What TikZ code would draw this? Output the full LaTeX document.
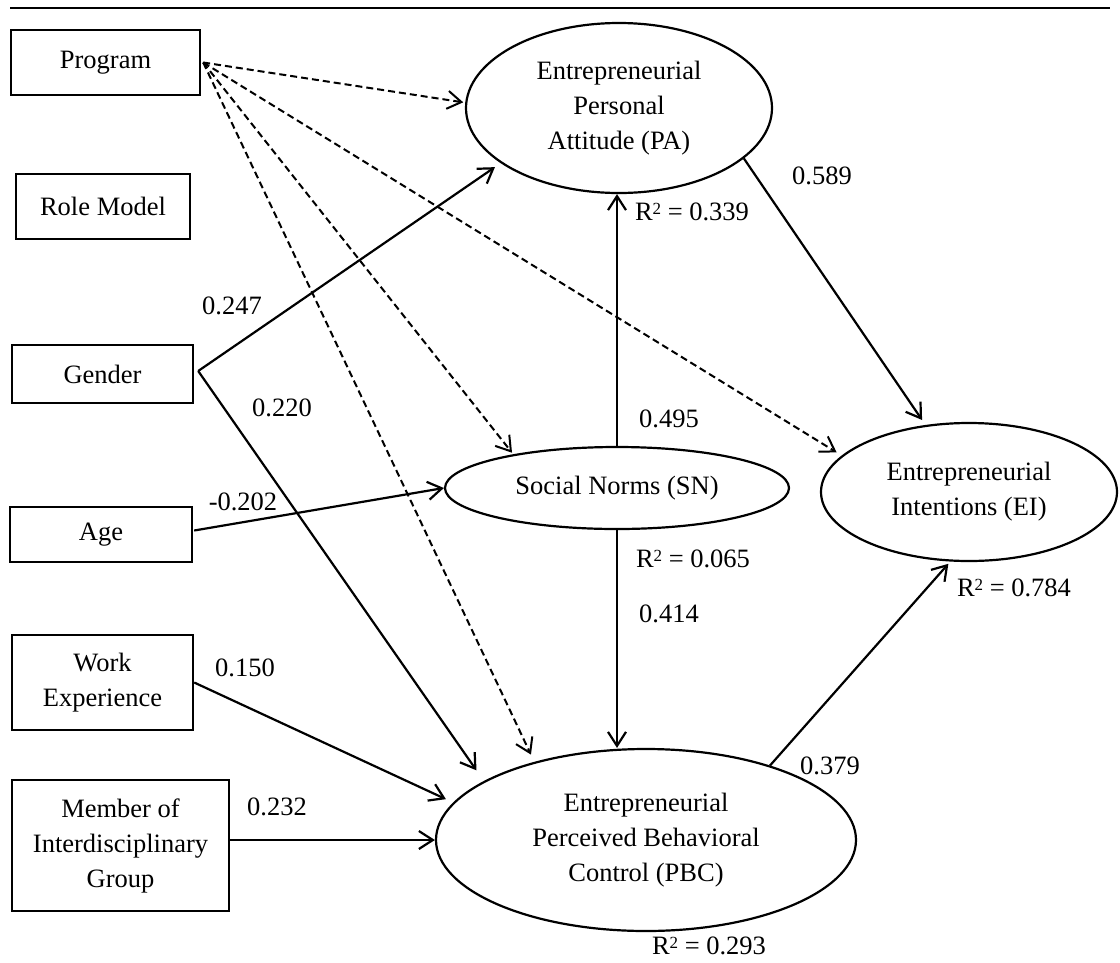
\documentclass[tikz,border=0pt]{standalone}
\usepackage{fontspec}
\setmainfont{Liberation Serif}
\usetikzlibrary{shapes.geometric,arrows.meta,calc}
\begin{document}
\begin{tikzpicture}[x=1pt,y=-1pt,
  font=\fontsize{26.5}{35}\selectfont,
  box/.style={draw,line width=2.4pt,rectangle,inner sep=0pt,align=center},
  latent/.style={draw,line width=2.2pt,ellipse,inner sep=0pt,align=center},
  lbl/.style={inner sep=0pt},
  conn/.style={line width=2.2pt,-{Straight Barb[length=14pt,width=18pt]}},
  dconn/.style={conn,line width=2pt,dash pattern=on 7pt off 4pt},
]
\useasboundingbox (0,0) rectangle (1120,962);
\draw[line width=2.8pt] (10,8) -- (1110,8);

% observed variables
\node[box,minimum width=189pt,minimum height=65pt] (prog) at (105.5,62.5) {Program};
\node[box,minimum width=174pt,minimum height=65pt] (role) at (103,206.5) {Role Model};
\node[box,minimum width=181pt,minimum height=58pt] (gen) at (102.5,374) {Gender};
\node[box,minimum width=182pt,minimum height=55pt] (age) at (101,534.5) {Age};
\node[box,minimum width=181pt,minimum height=95pt] (work) at (102.5,682.5) {Work\\Experience};
\node[box,minimum width=217pt,minimum height=131pt] (mem) at (120.5,845.5) {Member of\\Interdisciplinary\\Group};

% latent variables
\node[latent,minimum width=306pt,minimum height=170pt] (pa) at (619,108) {Entrepreneurial\\Personal\\Attitude (PA)};
\node[latent,minimum width=344pt,minimum height=82pt] (sn) at (617,488) {Social Norms (SN)};
\node[latent,minimum width=296pt,minimum height=138pt] (ei) at (969,492) {Entrepreneurial\\Intentions (EI)};
\node[latent,minimum width=420pt,minimum height=182pt] (pbc) at (646,840) {Entrepreneurial\\Perceived Behavioral\\Control (PBC)};

% start points
\coordinate (ps) at ($(prog.east)+(2,0)$);
\coordinate (gs) at ($(gen.east)+(4,-3)$);
\coordinate (as) at ($(age.east)+(1,-4)$);

% dashed (non-significant) paths from Program
\draw[dconn,shorten >=2pt] (ps) -- (pa.178);
\draw[dconn,shorten >=2pt] (ps) -- (sn.162);
\draw[dconn,shorten >=8pt] (ps) -- (pbc.145);
\draw[dconn,shorten >=6pt] (ps) -- (ei.164);

% significant paths
\draw[conn,shorten >=7pt] (gs) -- (pa.205);
\draw[conn,shorten >=13pt] (gs) -- (pbc.160);
\draw[conn] (as) -- (sn.west);
\draw[conn,shorten >=8pt] (work.east) -- (pbc.169);
\draw[conn] (mem.east |- pbc.west) -- (pbc.west);
\draw[conn] (sn.north) -- (sn.north |- pa.south);
\draw[conn] (sn.south) -- (sn.south |- pbc.north);
\draw[conn,shorten >=6pt] (pa.338) -- (ei.123);
\draw[conn,shorten >=3pt] (pbc.31) -- (ei.255);

% labels
\node[lbl] (l247) at (232,306) {0.247};
\node[lbl] (l220) at (282,408) {0.220};
\node[lbl] (l202) at (243,502) {-0.202};
\node[lbl] (l150) at (245,668) {0.150};
\node[lbl] (l232) at (277,807) {0.232};
\node[lbl] (l589) at (822,176) {0.589};
\node[lbl] (r339) at (692,212) {R\raisebox{0.5ex}{\fontsize{17}{17}\selectfont 2} = 0.339};
\node[lbl] (l495) at (669,419) {0.495};
\node[lbl] (r065) at (693,559) {R\raisebox{0.5ex}{\fontsize{17}{17}\selectfont 2} = 0.065};
\node[lbl] (l414) at (669,614) {0.414};
\node[lbl] (r784) at (1014,588) {R\raisebox{0.5ex}{\fontsize{17}{17}\selectfont 2} = 0.784};
\node[lbl] (l379) at (830,766) {0.379};
\node[lbl] (r293) at (709,946) {R\raisebox{0.5ex}{\fontsize{17}{17}\selectfont 2} = 0.293};
\end{tikzpicture}
\end{document}
